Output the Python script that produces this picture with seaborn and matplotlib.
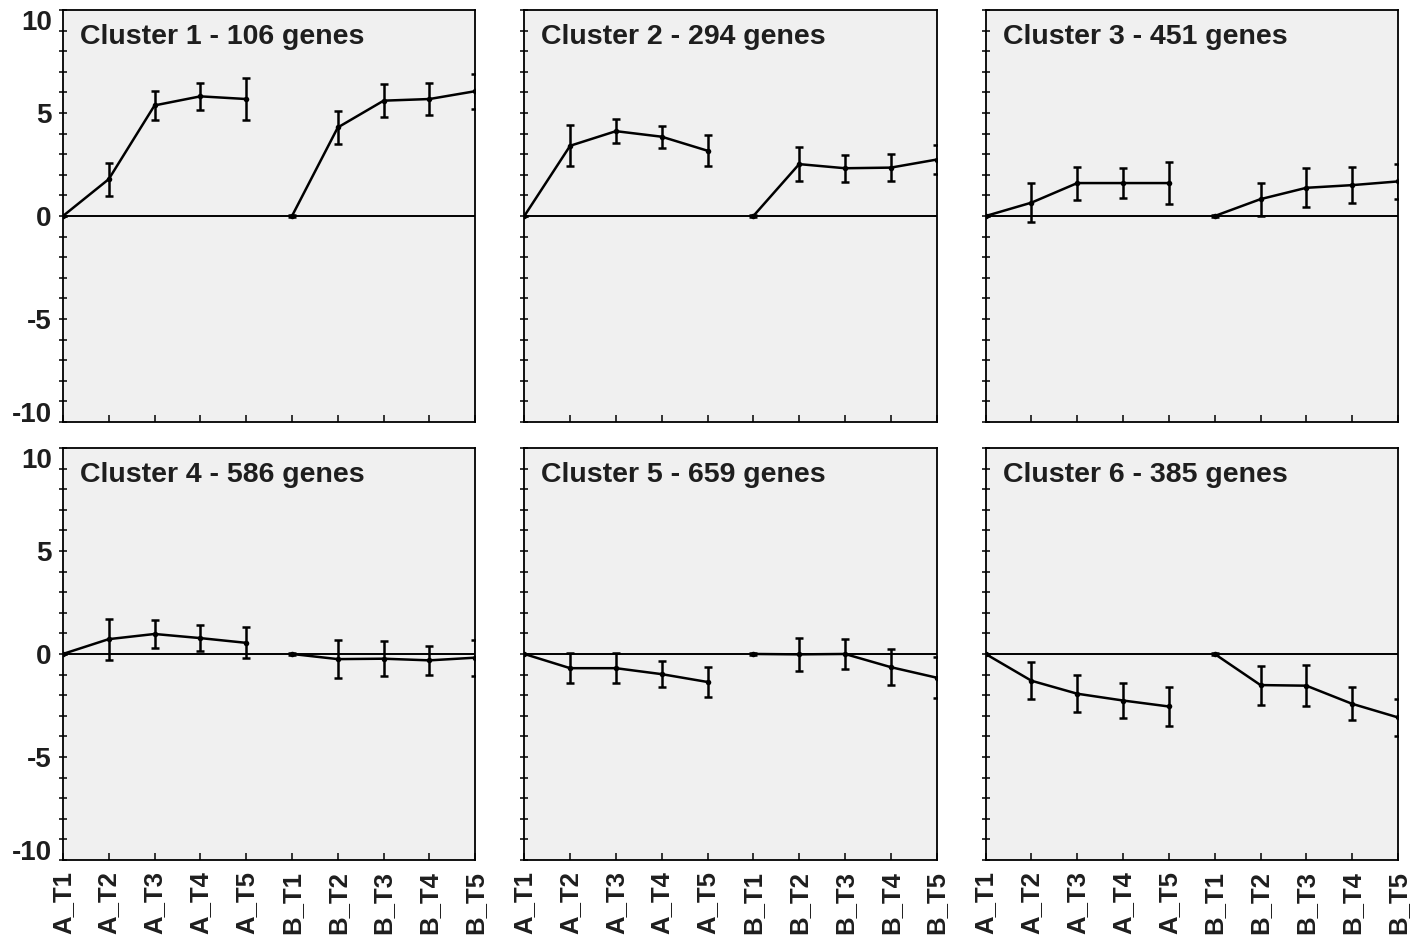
import matplotlib.pyplot as plt
from matplotlib.ticker import MultipleLocator, FixedLocator
import pandas as pd
import seaborn as sns

sns.set_style('ticks')
plt.rcParams['font.family'] = ['Liberation Sans', 'DejaVu Sans']
plt.rcParams['font.weight'] = 'bold'

# ── Data ──────────────────────────────────────────────────────────────────────
TIMEPOINTS = ['A_T1', 'A_T2', 'A_T3', 'A_T4', 'A_T5',
              'B_T1', 'B_T2', 'B_T3', 'B_T4', 'B_T5']
SEGMENTS = ['A'] * 5 + ['B'] * 5
GENE_COUNTS = [106, 294, 451, 586, 659, 385]

MEAN_C1 = [0, 1.79, 5.37, 5.81, 5.68, 0, 4.30, 5.60, 5.68, 6.06]
ERR_C1 = [0, 0.80, 0.72, 0.65, 1.00, 0.06, 0.80, 0.80, 0.76, 0.85]
MEAN_C2 = [0, 3.41, 4.12, 3.85, 3.17, 0, 2.52, 2.32, 2.35, 2.74]
ERR_C2 = [0, 1.00, 0.58, 0.53, 0.76, 0.06, 0.82, 0.66, 0.66, 0.70]
MEAN_C3 = [0, 0.65, 1.60, 1.60, 1.60, 0, 0.82, 1.37, 1.50, 1.68]
ERR_C3 = [0, 0.95, 0.80, 0.71, 1.00, 0.06, 0.80, 0.94, 0.86, 0.85]
MEAN_C4 = [0, 0.72, 0.97, 0.77, 0.54, 0, -0.25, -0.23, -0.31, -0.18]
ERR_C4 = [0, 1.00, 0.67, 0.62, 0.75, 0.06, 0.92, 0.86, 0.71, 0.87]
MEAN_C5 = [0, -0.69, -0.69, -0.98, -1.36, 0, -0.02, 0.0, -0.64, -1.15]
ERR_C5 = [0, 0.72, 0.72, 0.63, 0.75, 0.06, 0.80, 0.71, 0.86, 1.00]
MEAN_C6 = [0, -1.30, -1.93, -2.26, -2.55, 0, -1.51, -1.54, -2.42, -3.08]
ERR_C6 = [0, 0.89, 0.89, 0.86, 0.94, 0.06, 0.95, 1.00, 0.80, 0.89]

MEANS = [MEAN_C1, MEAN_C2, MEAN_C3, MEAN_C4, MEAN_C5, MEAN_C6]
ERRS = [ERR_C1, ERR_C2, ERR_C3, ERR_C4, ERR_C5, ERR_C6]

# long-form table
rows = []
for c, (m, e) in enumerate(zip(MEANS, ERRS), start=1):
    for i, tp in enumerate(TIMEPOINTS):
        rows.append({'cluster': c, 'timepoint': tp, 'pos': i,
                     'segment': SEGMENTS[i], 'mean': m[i], 'err': e[i]})
df = pd.DataFrame(rows)

# ── Figure ────────────────────────────────────────────────────────────────────
fig, axes = plt.subplots(2, 3, figsize=(14.24, 9.38), dpi=100,
                         sharex=True, sharey=True)
fig.subplots_adjust(left=0.0442, right=0.9817, top=0.9893, bottom=0.0832,
                    wspace=0.119, hspace=0.063)

TXT = '#1e1e1e'

for k, ax in enumerate(axes.flat):
    c = k + 1
    sub = df[df['cluster'] == c]
    ax.set_facecolor('#f0f0f0')
    ax.axhline(0, color='black', lw=1.4, zorder=1)

    sns.lineplot(data=sub, x='pos', y='mean', units='segment', estimator=None,
                 color='black', lw=1.8, marker='o', markersize=4,
                 markeredgewidth=0, ax=ax, zorder=3)
    ax.errorbar(sub['pos'], sub['mean'], yerr=sub['err'], fmt='none',
                ecolor='black', elinewidth=1.8, capsize=3, capthick=1.8,
                zorder=3)

    ax.text(0.041, 0.935, f'Cluster {c} - {GENE_COUNTS[k]} genes',
            transform=ax.transAxes, ha='left', va='center',
            fontsize=20.5, fontweight='bold', color=TXT)

    ax.set_xlim(0, 9)
    ax.set_ylim(-10, 10)
    ax.set_xlabel('')
    ax.set_ylabel('')
    for s in ax.spines.values():
        s.set_visible(True)
        s.set_linewidth(1.3)
        s.set_color('black')

    ax.yaxis.set_major_locator(FixedLocator([-10, -5, 0, 5, 10]))
    ax.yaxis.set_minor_locator(MultipleLocator(1))
    ax.tick_params(axis='y', which='both', direction='inout', length=6,
                   width=1.3, left=True, right=False, pad=5,
                   labelsize=20, labelcolor=TXT)
    ax.tick_params(axis='x', which='both', direction='in', length=5,
                   width=1.3, bottom=True, top=False, pad=8,
                   labelsize=18.5, labelcolor=TXT)

for ax in axes[1]:
    ax.set_xticks(range(len(TIMEPOINTS)))
    ax.set_xticklabels(TIMEPOINTS, rotation=90, fontweight='bold')

for ax in axes[:, 0]:
    ax.set_yticks([-10, -5, 0, 5, 10])
    ax.set_yticklabels(['-10', '-5', '0', '5', '10'], fontweight='bold')
    labels = ax.get_yticklabels()
    labels[0].set_va('baseline')
    labels[-1].set_va('top')

fig.savefig('out.png', dpi=100, facecolor='white')
plt.close(fig)
print('out.png')
